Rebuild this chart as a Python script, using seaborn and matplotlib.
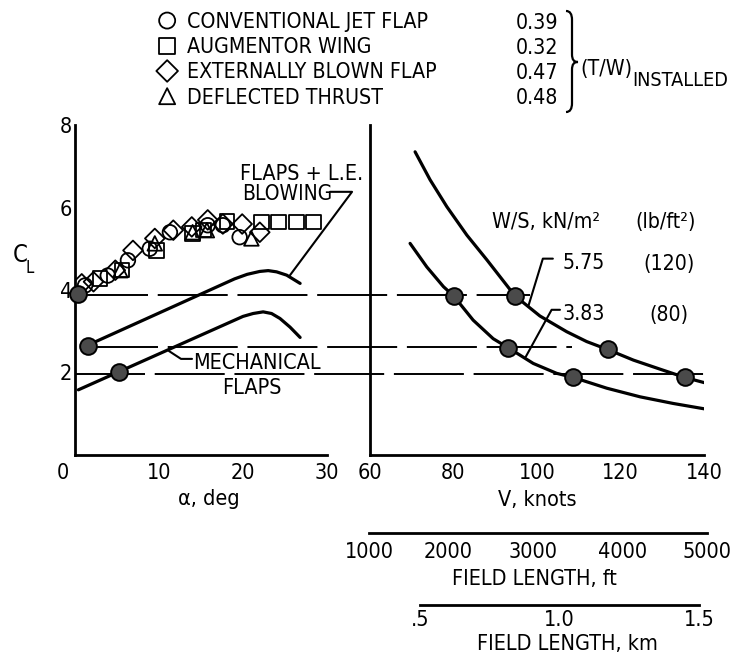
import os
import matplotlib
matplotlib.use("Agg")
import matplotlib.pyplot as plt
import matplotlib.font_manager as fm
import seaborn as sns
from matplotlib.transforms import Affine2D
from matplotlib.path import Path
from matplotlib.patches import PathPatch

# ---------------- data ----------------
series_names = ["CONVENTIONAL JET FLAP", "AUGMENTOR WING",
                "EXTERNALLY BLOWN FLAP", "DEFLECTED THRUST"]
series_markers = ["o", "s", "D", "^"]
tw_installed = ["0.39", "0.32", "0.47", "0.48"]

cjf_alpha = [1.2, 3.9, 6.3, 8.9, 11.3, 15.8, 17.6, 19.6]
cjf_cl = [4.11, 4.35, 4.72, 5.00, 5.40, 5.57, 5.57, 5.28]
aw_alpha = [3.0, 5.6, 9.7, 14.0, 15.3, 18.1, 22.2, 24.2, 26.4, 28.4]
aw_cl = [4.28, 4.48, 4.96, 5.37, 5.45, 5.66, 5.65, 5.65, 5.65, 5.65]
ebf_alpha = [0.8, 2.2, 4.8, 6.9, 9.5, 11.7, 13.9, 15.8, 17.6, 19.9, 22.0]
ebf_cl = [4.15, 4.20, 4.48, 4.96, 5.25, 5.45, 5.53, 5.70, 5.60, 5.60, 5.40]
dt_alpha = [5.4, 9.5, 14.0, 15.7, 21.0]
dt_cl = [4.48, 5.13, 5.40, 5.45, 5.25]

fle_alpha = [1.5, 19.0, 20.5, 22.0, 23.0, 24.0, 25.2, 26.8]
fle_cl = [2.66, 4.27, 4.38, 4.45, 4.47, 4.44, 4.36, 4.16]
mech_alpha = [0.4, 20.0, 21.2, 22.4, 23.4, 24.4, 25.6, 26.8]
mech_cl = [1.58, 3.36, 3.43, 3.47, 3.43, 3.31, 3.10, 2.85]

design_alpha = [0.3, 1.5, 5.2]
design_cl = [3.90, 2.64, 2.02]

cl_levels = [3.87, 2.61, 1.96]
level_alpha_start = [0.3, 1.5, 0.0]
level_v_end = [98.3, 108.3, 141.0]

ws_labels = ["5.75", "3.83"]
ws_lb_labels = ["(120)", "(80)"]
ws_hi_v = [70.8, 74.4, 78.4, 83.2, 88.0, 92.7, 94.7, 100.7, 107.1, 111.9,
           117.1, 123.1, 129.5, 135.4, 140.6]
ws_hi_cl = [7.35, 6.67, 6.02, 5.33, 4.73, 4.12, 3.86, 3.37, 2.99, 2.75,
            2.55, 2.30, 2.08, 1.88, 1.74]
ws_lo_v = [69.6, 73.6, 77.6, 80.0, 84.7, 89.5, 93.1, 99.1, 104.7, 108.7,
           116.7, 124.7, 132.6, 140.6]
ws_lo_cl = [5.13, 4.56, 4.08, 3.86, 3.27, 2.82, 2.60, 2.22, 1.98, 1.88,
            1.62, 1.41, 1.25, 1.11]
ws_hi_pts_v = [94.7, 117.1, 135.4]
ws_hi_pts_cl = [3.85, 2.57, 1.90]
ws_lo_pts_v = [80.0, 93.1, 108.7]
ws_lo_pts_cl = [3.85, 2.60, 1.90]

alpha_ticks = [0, 10, 20, 30]
cl_ticks = [2, 4, 6, 8]
v_ticks = [60, 80, 100, 120, 140]
ft_labels = ["1000", "2000", "3000", "4000", "5000"]
ft_at_v = [59.8, 78.7, 99.0, 120.6, 140.7]
km_labels = [".5", "1.0", "1.5"]
km_at_v = [72.0, 105.3, 138.8]


# ---------------- font: prefer a narrow / condensed sans ----------------
def pick_condensed():
    ents = fm.fontManager.ttflist

    def plain(e):
        b = os.path.basename(e.fname).lower()
        return not any(k in b for k in ("bold", "italic", "oblique", "mono",
                                         "light", "thin", "black", "medium",
                                         "semi", "extra"))
    tests = [
        lambda e: e.name == "Liberation Sans Narrow" and plain(e),
        lambda e: os.path.basename(e.fname).lower() == "dejavusanscondensed.ttf",
        lambda e: "notosans-condensed." in os.path.basename(e.fname).lower(),
        lambda e: "condensed" in os.path.basename(e.fname).lower()
        and "sans" in os.path.basename(e.fname).lower() and plain(e),
        lambda e: "narrow" in os.path.basename(e.fname).lower() and plain(e),
    ]
    for t in tests:
        for e in ents:
            try:
                if t(e):
                    return e
            except Exception:
                pass
    return None


sns.set_theme(style="white")
_fe = pick_condensed()
SCALE = 1.0
if _fe is not None:
    plt.rcParams["font.family"] = [_fe.name, "DejaVu Sans"]
    plt.rcParams["font.stretch"] = _fe.stretch
    plt.rcParams["font.weight"] = "normal"
else:
    plt.rcParams["font.family"] = ["DejaVu Sans"]
    SCALE = 0.82
plt.rcParams.update({
    "axes.edgecolor": "black", "axes.linewidth": 2.0,
    "axes.labelcolor": "black",
    "text.color": "black", "xtick.color": "black", "ytick.color": "black",
    "axes.facecolor": "none", "figure.facecolor": "white",
})

FS_TICK = 15.5 * SCALE
FS_HEAD = 15.3 * SCALE
FS_IN = 15.5 * SCALE

W, H = 735, 656
fig = plt.figure(figsize=(W / 100, H / 100), dpi=100)
px = Affine2D().scale(1 / W, -1 / H).translate(0, 1) + fig.transFigure


def box(x0, y0, x1, y1):
    return [x0 / W, 1 - y1 / H, (x1 - x0) / W, (y1 - y0) / H]


def ptext(x, yc, s, size, ha="left"):
    fig.text(x, yc + 0.36 * size * 100 / 72, s, transform=px, ha=ha,
             va="baseline", fontsize=size)


axL = fig.add_axes(box(75, 125, 327, 455))
axR = fig.add_axes(box(370, 125, 704, 455))
vl, vr = 59.0, 141.0
sx = 334 / 80.0
axFt = fig.add_axes(box(370 + (vl - 60) * sx, 529, 370 + (vr - 60) * sx, 533))
axKm = fig.add_axes(box(370 + (vl - 60) * sx, 601, 370 + (vr - 60) * sx, 605))

axL.set_xlim(0, 30)
axL.set_ylim(0, 8)
axR.set_xlim(60, 140)
axR.set_ylim(0, 8)
for ax in (axFt, axKm):
    ax.set_xlim(vl, vr)
    ax.set_ylim(0, 1)

for ax in (axL, axR, axFt, axKm):
    ax.grid(False)
    ax.spines["top"].set_visible(False)
    ax.spines["right"].set_visible(False)
for ax in (axFt, axKm):
    ax.spines["left"].set_visible(False)
    ax.set_yticks([])

# ---------------- left panel ----------------
for name, mk, a, c in zip(series_names, series_markers,
                          [cjf_alpha, aw_alpha, ebf_alpha, dt_alpha],
                          [cjf_cl, aw_cl, ebf_cl, dt_cl]):
    sns.scatterplot(x=a, y=c, ax=axL, marker=mk, s=100 if mk == "D" else 110,
                    facecolor="none", edgecolor="black", linewidth=1.3,
                    label=name, legend=False, zorder=3)

sns.lineplot(x=fle_alpha, y=fle_cl, ax=axL, color="black", linewidth=2.3,
             sort=False, estimator=None, legend=False)
sns.lineplot(x=mech_alpha, y=mech_cl, ax=axL, color="black", linewidth=2.3,
             sort=False, estimator=None, legend=False)

for lvl, a0, v1 in zip(cl_levels, level_alpha_start, level_v_end):
    xd = axR.transData.transform((v1, lvl))[0]
    a1 = axL.transData.inverted().transform((xd, 0))[0]
    axL.plot([a0, a1], [lvl, lvl], color="black", lw=1.4,
             linestyle=(0, (36, 5)), clip_on=False, zorder=2)

sns.scatterplot(x=design_alpha, y=design_cl, ax=axL, s=145, color="#4a4a4a",
                edgecolor="black", linewidth=1.4, zorder=5, legend=False,
                clip_on=False)

# leaders (annotation strokes)
axL.plot([30.36, 32.98, 25.6], [6.38, 6.38, 4.36], color="black", lw=1.5,
         clip_on=False)
axL.plot([13.93, 12.62, 11.79, 11.19], [2.33, 2.33, 2.44, 2.52], color="black",
         lw=1.5, clip_on=False)

axL.set_xticks(alpha_ticks, labels=[""] + [str(t) for t in alpha_ticks[1:]])
axL.set_yticks(cl_ticks)
axL.annotate(str(alpha_ticks[0]), xy=(0, 0), xytext=(-9, -5.5),
             textcoords="offset points", ha="center", va="top",
             fontsize=FS_TICK)
axL.tick_params(axis="x", direction="in", length=11, width=2,
                labelsize=FS_TICK, pad=5.5)
axL.tick_params(axis="y", direction="in", length=13.5, width=2,
                labelsize=FS_TICK, pad=2)
axL.set_xlabel("α, deg", fontsize=FS_TICK)
axL.xaxis.set_label_coords(209, 489, transform=px)

# ---------------- right panel ----------------
sns.lineplot(x=ws_hi_v, y=ws_hi_cl, ax=axR, color="black", linewidth=2.3,
             sort=False, estimator=None, legend=False)
sns.lineplot(x=ws_lo_v, y=ws_lo_cl, ax=axR, color="black", linewidth=2.3,
             sort=False, estimator=None, legend=False)
sns.scatterplot(x=ws_hi_pts_v + ws_lo_pts_v, y=ws_hi_pts_cl + ws_lo_pts_cl,
                ax=axR, s=145, color="#4a4a4a", edgecolor="black",
                linewidth=1.4, zorder=5, legend=False, clip_on=False)
axR.plot([103.8, 101.4, 97.9], [4.76, 4.76, 3.6], color="black", lw=1.5)
axR.plot([105.5, 103.5, 97.3], [3.52, 3.52, 2.38], color="black", lw=1.5)

axR.set_xticks(v_ticks)
axR.set_yticks(cl_ticks)
axR.tick_params(axis="x", direction="in", length=12.5, width=2,
                labelsize=FS_TICK, pad=5.5)
axR.tick_params(axis="y", direction="in", length=13.5, width=2,
                labelleft=False)
axR.set_xlabel("V, knots", fontsize=FS_TICK)
axR.xaxis.set_label_coords(537, 490, transform=px)

# field length scales
axFt.spines["bottom"].set_bounds(ft_at_v[0], ft_at_v[-1])
axFt.set_xticks(ft_at_v, labels=ft_labels)
axFt.tick_params(axis="x", direction="in", length=9.5, width=2,
                 labelsize=FS_TICK, pad=6.5)
axFt.set_xlabel("FIELD LENGTH, ft", fontsize=FS_TICK)
axFt.xaxis.set_label_coords(534, 569, transform=px)

axKm.spines["bottom"].set_bounds(km_at_v[0], km_at_v[-1])
axKm.set_xticks(km_at_v, labels=km_labels)
axKm.tick_params(axis="x", direction="in", length=11, width=2,
                 labelsize=FS_TICK, pad=3.5)
axKm.set_xlabel("FIELD LENGTH, km", fontsize=FS_TICK)
axKm.xaxis.set_label_coords(567, 634, transform=px)

# ---------------- texts ----------------
ptext(13, 253, "C", 17 * SCALE)
ptext(26, 267, "L", 12 * SCALE)
ptext(240, 172.5, "FLAPS + L.E.", FS_IN)
ptext(242, 192.5, "BLOWING", 15 * SCALE)
ptext(256.5, 361, "MECHANICAL", FS_IN, ha="center")
ptext(252, 386.5, "FLAPS", FS_IN, ha="center")
ptext(492, 220, "W/S, kN/m²", FS_HEAD)
ptext(635, 220, "(lb/ft²)", FS_HEAD)
for lab, lb, yc in zip(ws_labels, ws_lb_labels, [261, 312]):
    ptext(563, yc, lab, FS_HEAD)
    ptext(669, yc + 1, lb, FS_HEAD, ha="center")

# legend / header
for ax in (axL, axR):
    if ax.get_legend() is not None:
        ax.get_legend().remove()
handles, labels = axL.get_legend_handles_labels()
fig.legend(handles, labels, loc="upper left",
           bbox_to_anchor=(156 / W, 1 - 12 / H),
           frameon=False, fontsize=FS_HEAD, handlelength=1.05,
           handletextpad=0.4, labelspacing=0.245, borderpad=0,
           borderaxespad=0, markerscale=1.1, scatteryoffsets=[0.5])
for val, yc in zip(tw_installed, [21, 46.5, 71, 96]):
    ptext(558, yc, val, FS_HEAD, ha="right")
ptext(580, 67, "(T/W)", FS_HEAD)
ptext(632, 78.5, "INSTALLED", 14.2 * SCALE)

verts = [(566, 11), (570, 11), (572, 14), (572, 20), (572, 54),
         (572, 60), (574, 62), (578, 62),
         (574, 62), (572, 64), (572, 70), (572, 103),
         (572, 109), (570, 112), (566, 112)]
codes = ([Path.MOVETO] + [Path.CURVE4] * 3 + [Path.LINETO] + [Path.CURVE4] * 3
         + [Path.CURVE4] * 3 + [Path.LINETO] + [Path.CURVE4] * 3)
fig.add_artist(PathPatch(Path(verts, codes), fill=False, lw=1.6,
                         edgecolor="black", transform=px))

fig.savefig("out.png", dpi=100)
